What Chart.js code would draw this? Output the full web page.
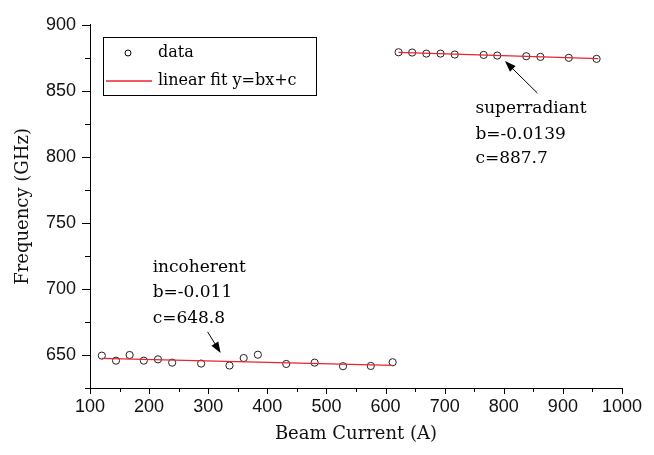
<!DOCTYPE html>
<html>
<head>
<meta charset="utf-8">
<script src="https://cdn.jsdelivr.net/npm/chart.js@4.4.1/dist/chart.umd.min.js"></script>
<style>
  html, body { margin: 0; padding: 0; background: #fff; }
  #wrap { width: 654px; height: 455px; position: relative; }
</style>
</head>
<body>
<div id="wrap"><canvas id="myChart"></canvas></div>
<script>
// values
let incoherentX = [120, 144, 167, 191, 215, 239, 288, 336, 360, 384, 432, 480, 528, 575, 612];
let incoherentY = [649.5, 645.7, 650, 645.7, 646.7, 644.2, 643.5, 642, 647.7, 650.2, 643.2, 644.2, 641.5, 641.7, 644.5];
let superX = [622, 645, 669, 693, 717, 766, 789, 838, 862, 910, 957];
let superY = [879.2, 879, 878.2, 878.2, 877.5, 877.2, 876.7, 876.2, 875.7, 875, 874.2];

// end points of the two fit lines
let fitIncX = [120, 612];
let fitIncY = [647.5, 642.1];
let fitSupX = [622, 960];
let fitSupY = [879.1, 874.4];

let xTicks = [100, 200, 300, 400, 500, 600, 700, 800, 900, 1000];
let yTicks = [650, 700, 750, 800, 850, 900];
let xMinor = [150, 250, 350, 450, 550, 650, 750, 850, 950];
let yMinor = [625, 675, 725, 775, 825, 875];

let legendLabels = ['data', 'linear fit y=bx+c'];
let incNote = ['incoherent', 'b=-0.011', 'c=648.8'];
let supNote = ['superradiant', 'b=-0.0139', 'c=887.7'];

function toPoints(xs, ys) {
  let out = [];
  for (let i = 0; i < xs.length; i++) {
    out.push({ x: xs[i], y: ys[i] });
  }
  return out;
}

const serif = '"DejaVu Serif", serif';
const sans = '"Liberation Sans", Arial, sans-serif';
const red = '#e8252b';

function drawArrow(ctx, x1, y1, x2, y2) {
  let ang = Math.atan2(y2 - y1, x2 - x1);
  let len = 11, half = 4;
  ctx.beginPath();
  ctx.moveTo(x1, y1);
  ctx.lineTo(x2 - Math.cos(ang) * len * 0.6, y2 - Math.sin(ang) * len * 0.6);
  ctx.stroke();
  ctx.beginPath();
  ctx.moveTo(x2, y2);
  ctx.lineTo(x2 - Math.cos(ang) * len - Math.sin(ang) * half, y2 - Math.sin(ang) * len + Math.cos(ang) * half);
  ctx.lineTo(x2 - Math.cos(ang) * len + Math.sin(ang) * half, y2 - Math.sin(ang) * len - Math.cos(ang) * half);
  ctx.closePath();
  ctx.fill();
}

// ticks, legend box and the notes with arrows
const extras = {
  id: 'extras',
  afterDraw(chart) {
    const ctx = chart.ctx;
    const xs = chart.scales.x;
    const ys = chart.scales.y;
    const area = chart.chartArea;
    ctx.save();
    ctx.strokeStyle = '#000';
    ctx.fillStyle = '#000';
    ctx.lineWidth = 1;

    // tick marks
    ctx.beginPath();
    xTicks.forEach(v => { let p = Math.round(xs.getPixelForValue(v)) + 0.5; ctx.moveTo(p, area.bottom); ctx.lineTo(p, area.bottom + 6); });
    xMinor.forEach(v => { let p = Math.round(xs.getPixelForValue(v)) + 0.5; ctx.moveTo(p, area.bottom); ctx.lineTo(p, area.bottom + 4); });
    yTicks.forEach(v => { let p = Math.round(ys.getPixelForValue(v)) + 0.5; ctx.moveTo(area.left, p); ctx.lineTo(area.left - 8, p); });
    yMinor.forEach(v => { let p = Math.round(ys.getPixelForValue(v)) + 0.5; ctx.moveTo(area.left, p); ctx.lineTo(area.left - 5, p); });
    ctx.stroke();

    // legend
    ctx.strokeRect(103.5, 37.5, 213, 58);
    ctx.beginPath();
    ctx.arc(128, 53, 3, 0, Math.PI * 2);
    ctx.stroke();
    ctx.strokeStyle = red;
    ctx.lineWidth = 1.3;
    ctx.beginPath();
    ctx.moveTo(106, 81);
    ctx.lineTo(152, 81);
    ctx.stroke();
    ctx.font = '16px ' + serif;
    ctx.textBaseline = 'middle';
    ctx.fillText(legendLabels[0], 158, 53);
    ctx.fillText(legendLabels[1], 158, 81);

    // notes
    ctx.strokeStyle = '#000';
    ctx.lineWidth = 1;
    ctx.font = '17px ' + serif;
    ctx.textBaseline = 'alphabetic';
    let incY = [712.5, 693.75, 674.25];
    incNote.forEach((t, i) => ctx.fillText(t, xs.getPixelForValue(206), ys.getPixelForValue(incY[i])));
    let supY = [833.25, 813.75, 795];
    supNote.forEach((t, i) => ctx.fillText(t, xs.getPixelForValue(752), ys.getPixelForValue(supY[i])));

    drawArrow(ctx, xs.getPixelForValue(299), ys.getPixelForValue(667.5), xs.getPixelForValue(321), ys.getPixelForValue(651.5));
    drawArrow(ctx, xs.getPixelForValue(857), ys.getPixelForValue(848.25), xs.getPixelForValue(802), ys.getPixelForValue(872.5));
    ctx.restore();
  }
};

const options = {
  type: 'scatter',
  data: {
    datasets: [
      {
        label: 'fit incoherent',
        data: toPoints(fitIncX, fitIncY),
        showLine: true,
        borderColor: red,
        borderWidth: 1.3,
        pointRadius: 0
      },
      {
        label: 'fit superradiant',
        data: toPoints(fitSupX, fitSupY),
        showLine: true,
        borderColor: red,
        borderWidth: 1.3,
        pointRadius: 0
      },
      {
        label: 'data',
        data: toPoints(incoherentX, incoherentY).concat(toPoints(superX, superY)),
        pointStyle: 'circle',
        pointRadius: 3.6,
        borderWidth: 1,
        borderColor: '#222',
        backgroundColor: 'rgba(0,0,0,0)'
      }
    ]
  },
  options: {
    responsive: true,
    maintainAspectRatio: false,
    animation: false,
    layout: { padding: { top: 21, right: 32, left: 0, bottom: 0 } },
    plugins: {
      legend: { display: false },
      tooltip: { enabled: false }
    },
    scales: {
      x: {
        type: 'linear',
        min: 100,
        max: 1000,
        afterBuildTicks: s => { s.ticks = xTicks.map(v => ({ value: v })); },
        afterFit: s => { s.height = 67; },
        ticks: { font: { family: sans, size: 18 }, color: '#111', padding: 8, maxRotation: 0, callback: v => String(v) },
        grid: { display: false, drawTicks: false },
        border: { display: true, color: '#000', width: 1 },
        title: { display: true, text: 'Beam Current (A)', font: { family: serif, size: 18 }, color: '#111', padding: { top: 0, bottom: 10 } }
      },
      y: {
        type: 'linear',
        min: 625,
        max: 900,
        afterBuildTicks: s => { s.ticks = yTicks.map(v => ({ value: v })); },
        afterFit: s => { s.width = 90; },
        ticks: { font: { family: sans, size: 18 }, color: '#111', padding: 14, callback: v => String(v) },
        grid: { display: false, drawTicks: false },
        border: { display: true, color: '#000', width: 1 },
        title: { display: true, text: 'Frequency (GHz)', font: { family: serif, size: 18 }, color: '#111', padding: { top: 13, bottom: 0 } }
      }
    }
  },
  plugins: [extras]
};

const ctx = document.getElementById('myChart').getContext('2d');
const myChart = new Chart(ctx, options);
</script>
</body>
</html>
